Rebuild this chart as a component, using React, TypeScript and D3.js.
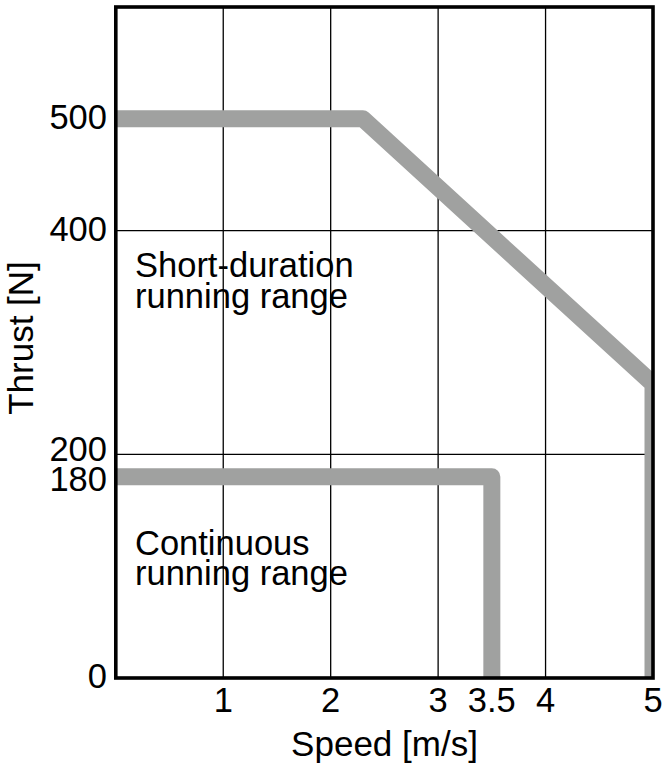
import React from "react";
import * as d3 from "d3";

const speedTicks = [1, 2, 3, 3.5, 4, 5];
const thrustTicks = [0, 180, 200, 400, 500];
const gridSpeeds = [1, 2, 3, 4];
const gridThrusts = [200, 400];
const shortDurationCurve: [number, number][] = [
  [0, 500],
  [2.3, 500],
  [5, 263],
  [5, 0],
];
const continuousCurve: [number, number][] = [
  [0, 180],
  [3.5, 180],
  [3.5, 0],
];
const regionLabels = [
  ["Short-duration", "running range"],
  ["Continuous", "running range"],
];

const W = 664;
const H = 771;
const FONT = "'Liberation Sans', Arial, Helvetica, sans-serif";

export default function App() {
  const x = d3.scaleLinear().domain([0, 5]).range([115.8, 653]);
  const y = d3.scaleLinear().domain([0, 600]).range([678, 7]);
  const line = d3
    .line<[number, number]>()
    .x((d) => x(d[0]))
    .y((d) => y(d[1]));
  const gray = "#a0a1a0";
  const lw = 17;
  const labelBaselines = [
    [277, 308],
    [555, 585],
  ];

  return (
    <svg
      width={W}
      height={H}
      style={{ position: "absolute", left: 0, top: 0, background: "#fff" }}
      fontFamily={FONT}
    >
      <defs>
        <clipPath id="plotClip">
          <rect x={x(0)} y={y(600)} width={x(5) - x(0)} height={y(0) - y(600)} />
        </clipPath>
      </defs>
      <rect width={W} height={H} fill="#fff" />
      {gridSpeeds.map((s) => (
        <line key={"gx" + s} x1={x(s)} x2={x(s)} y1={y(0)} y2={y(600)} stroke="#000" strokeWidth={1.3} />
      ))}
      {gridThrusts.map((t) => (
        <line key={"gy" + t} x1={x(0)} x2={x(5)} y1={y(t)} y2={y(t)} stroke="#000" strokeWidth={1.3} />
      ))}
      <g clipPath="url(#plotClip)">
        <path d={line(shortDurationCurve) || ""} fill="none" stroke={gray} strokeWidth={lw} strokeLinejoin="round" />
        <path d={line(continuousCurve) || ""} fill="none" stroke={gray} strokeWidth={lw} strokeLinejoin="round" />
      </g>
      <rect
        x={x(0)}
        y={y(600)}
        width={x(5) - x(0)}
        height={y(0) - y(600)}
        fill="none"
        stroke="#000"
        strokeWidth={3.6}
      />
      {regionLabels.map((r, i) => (
        <text key={"rl" + i} fontSize={34.5} fill="#000">
          <tspan x={135} y={labelBaselines[i][0]}>{r[0]}</tspan>
          <tspan x={135} y={labelBaselines[i][1]}>{r[1]}</tspan>
        </text>
      ))}
      {thrustTicks.map((t) => (
        <text
          key={"ty" + t}
          x={107}
          y={y(t)}
          dy={t === 200 ? "0.2em" : t === 180 ? "0.4em" : "0.3em"}
          textAnchor="end"
          fontSize={34.5}
          fill="#000"
        >
          {t}
        </text>
      ))}
      {speedTicks.map((s) => (
        <text key={"tx" + s} x={x(s)} y={712} textAnchor="middle" fontSize={34.5} fill="#000">
          {s}
        </text>
      ))}
      <text x={384.5} y={756} textAnchor="middle" fontSize={35} fill="#000">
        Speed [m/s]
      </text>
      <text
        transform={`translate(33, 338) rotate(-90)`}
        textAnchor="middle"
        fontSize={35}
        fill="#000"
      >
        Thrust [N]
      </text>
    </svg>
  );
}
